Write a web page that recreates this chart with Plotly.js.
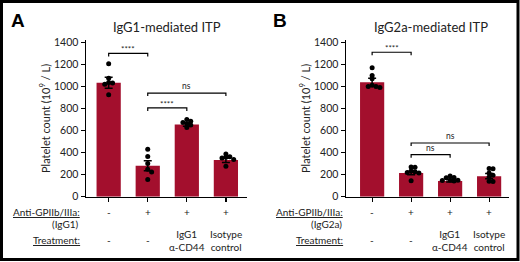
<!DOCTYPE html>
<html>
<head>
<meta charset="utf-8">
<script src="https://cdn.plot.ly/plotly-3.0.1.min.js"></script>
<style>html,body{margin:0;padding:0;background:#fff;overflow:hidden}#chart{width:520px;height:262px}</style>
</head>
<body>
<div id="chart"></div>
<script>
// ---------- data ----------
const groupsA = ["Untreated", "Anti-GPIIb/IIIa", "IgG1 α-CD44", "Isotype control"];
const meansA = [1034, 280, 654, 332];
const semA = [50, 45, 15, 22];
const pointsA = [
  [1205, 1075, 1030, 1020, 1035, 925],
  [430, 365, 300, 250, 225, 155],
  [700, 685, 672, 662, 650, 628],
  [388, 362, 358, 352, 338, 275]
];
const groupsB = ["Untreated", "Anti-GPIIb/IIIa", "IgG1 α-CD44", "Isotype control"];
const meansB = [1038, 214, 143, 186];
const semB = [36, 15, 10, 24];
const pointsB = [
  [1170, 1100, 1070, 1000, 990, 1000, 1010],
  [270, 268, 232, 226, 220, 215, 145],
  [188, 175, 172, 150, 142, 146, 152],
  [256, 254, 215, 195, 178, 140, 138]
];
// significance comparisons: [from group, to group, bracket value, label]
const sigA = [[0, 1, 1300, "****"], [1, 3, 940, "ns"], [1, 2, 805, "****"]];
const sigB = [[0, 1, 1310, "****"], [1, 3, 487, "ns"], [1, 2, 381, "ns"]];
const antiRowA = ["-", "+", "+", "+"];
const treatRowA = ["-", "-", "IgG1<br>α-CD44", "Isotype<br>control"];
const antiRowB = ["-", "+", "+", "+"];
const treatRowB = ["-", "-", "IgG1<br>α-CD44", "Isotype<br>control"];
const titleA = "IgG1-mediated ITP";
const titleB = "IgG2a-mediated ITP";
const yTitle = "Platelet count (10<sup>9</sup> / L)";
const yTicks = [0, 200, 400, 600, 800, 1000, 1200, 1400];

// ---------- style ----------
const W = 520, H = 262;
const RED = "#A30F2D";
const FONT = "Lato, 'Open Sans', sans-serif";
const TXT = "#222";
const px = v => v / W;
const py = v => 1 - v / H;

// simple beeswarm offsets (in category units)
function swarm(vals, tol, step) {
  const placed = [];
  const offs = new Array(vals.length).fill(0);
  const order = vals.map((v, i) => i).sort((a, b) => vals[b] - vals[a]);
  const seq = [0, step, -step, 2 * step, -2 * step, 3 * step, -3 * step];
  order.forEach(i => {
    const near = placed.filter(p => Math.abs(vals[p.i] - vals[i]) < tol).map(p => p.o);
    let chosen = 0;
    for (const c of seq) {
      if (near.every(o => Math.abs(o - c) > step * 0.9)) { chosen = c; break; }
    }
    offs[i] = chosen;
    placed.push({ i: i, o: chosen });
  });
  return offs;
}

const traces = [];
const shapes = [];
const annotations = [];

function panel(xname, yname, means, sem, pts, sig, tol) {
  const xs = means.map((m, i) => i);
  traces.push({
    type: "bar", x: xs, y: means, xaxis: xname, yaxis: yname, width: 0.62,
    marker: { color: RED, line: { width: 0 } },
    error_y: { type: "data", array: sem, visible: true, color: "#000", thickness: 1.5, width: 4 },
    hoverinfo: "skip", showlegend: false
  });
  const dx = [], dy = [];
  pts.forEach((arr, g) => {
    const o = swarm(arr, tol, 0.1);
    arr.forEach((v, k) => { dx.push(g + o[k]); dy.push(v); });
  });
  traces.push({
    type: "scatter", mode: "markers", x: dx, y: dy, xaxis: xname, yaxis: yname,
    marker: { color: "#000", size: 5 }, hoverinfo: "skip", showlegend: false
  });
  sig.forEach(s => {
    const [a, b, y, lab] = s;
    shapes.push({
      type: "path", xref: xname, yref: yname,
      path: `M ${a} ${y - 28} L ${a} ${y} L ${b} ${y} L ${b} ${y - 28}`,
      line: { color: "#000", width: 1.2 }
    });
    annotations.push({
      xref: xname, yref: yname, x: (a + b) / 2, y: y, text: lab, showarrow: false,
      xanchor: "center", yanchor: "bottom", yshift: lab === "ns" ? 0 : -3,
      font: { family: FONT, size: lab === "ns" ? 8.5 : 8, color: TXT }
    });
  });
}

panel("x", "y", meansA, semA, pointsA, sigA, 30);
panel("x2", "y2", meansB, semB, pointsB, sigB, 30);

function axisX(domain, range, anchor) {
  return {
    domain: domain, range: range, anchor: anchor, showline: true, linecolor: "#000", linewidth: 1.5,
    ticks: "outside", ticklen: 4, tickwidth: 1.2, tickcolor: "#000", tickvals: [0, 1, 2, 3],
    showticklabels: false, showgrid: false, zeroline: false, fixedrange: true, automargin: false
  };
}
function axisY(domain, anchor) {
  return {
    domain: domain, range: [0, 1420], anchor: anchor, showline: true, linecolor: "#000", linewidth: 1.5,
    ticks: "outside", ticklen: 4, tickwidth: 1.2, tickcolor: "#000", tickvals: yTicks,
    tickfont: { family: FONT, size: 10.5, color: TXT }, showgrid: false, zeroline: false,
    fixedrange: true, automargin: false
  };
}
const yDom = [py(196.7), py(40.1)];

// text annotations (centered on their point)
function txt(xref, x, y, text, size, opts) {
  annotations.push(Object.assign({
    xref: xref, yref: "paper", x: x, y: y, text: text, showarrow: false,
    xanchor: "center", yanchor: "middle",
    font: { family: FONT, size: size, color: TXT }
  }, opts || {}));
}
// titles
txt("paper", px(167), py(27), titleA, 13);
txt("paper", px(431), py(27), titleB, 13);
// panel letters
const LETTER = { family: "Liberation Sans, Arial, sans-serif", size: 19, color: "#000" };
txt("paper", px(18), py(21), "<b>A</b>", 19, { font: LETTER });
txt("paper", px(280), py(21), "<b>B</b>", 19, { font: LETTER });
// y titles
txt("paper", px(45), py(119), yTitle, 11, { textangle: -90 });
txt("paper", px(305), py(119), yTitle, 11, { textangle: -90 });

// table rows
function table(xname, labelX, antiRow, treatRow, iso) {
  txt("paper", px(labelX), py(212), "<u>Anti-GPIIb/IIIa:</u>", 10, { xanchor: "right" });
  txt("paper", px(labelX - 1), py(224), iso, 10, { xanchor: "right" });
  txt("paper", px(labelX), py(240), "<u>Treatment:</u>", 10, { xanchor: "right" });
  antiRow.forEach((t, i) => txt(xname, i, py(212), t, 10));
  treatRow.forEach((t, i) => txt(xname, i, py(240), t, 10));
}
table("x", 82, antiRowA, treatRowA, "(IgG1)");
table("x2", 345, antiRowB, treatRowB, "(IgG2a)");

// outer frame
shapes.push({
  type: "rect", xref: "paper", yref: "paper", x0: px(1.5), x1: px(518), y0: py(259.5), y1: py(1.5),
  line: { color: "#000", width: 3 }, fillcolor: "rgba(0,0,0,0)"
});

const layout = {
  width: W, height: H, margin: { l: 0, r: 0, t: 0, b: 0, pad: 0 }, autosize: false,
  paper_bgcolor: "#fff", plot_bgcolor: "rgba(0,0,0,0)", showlegend: false,
  font: { family: FONT, color: TXT },
  xaxis: axisX([px(86), px(247)], [-0.58, 3.54], "y"),
  yaxis: axisY(yDom, "x"),
  xaxis2: axisX([px(346), px(509)], [-0.67, 3.51], "y2"),
  yaxis2: axisY(yDom, "x2"),
  shapes: shapes, annotations: annotations
};
Plotly.newPlot("chart", traces, layout, { staticPlot: true, displayModeBar: false });
</script>
</body>
</html>
